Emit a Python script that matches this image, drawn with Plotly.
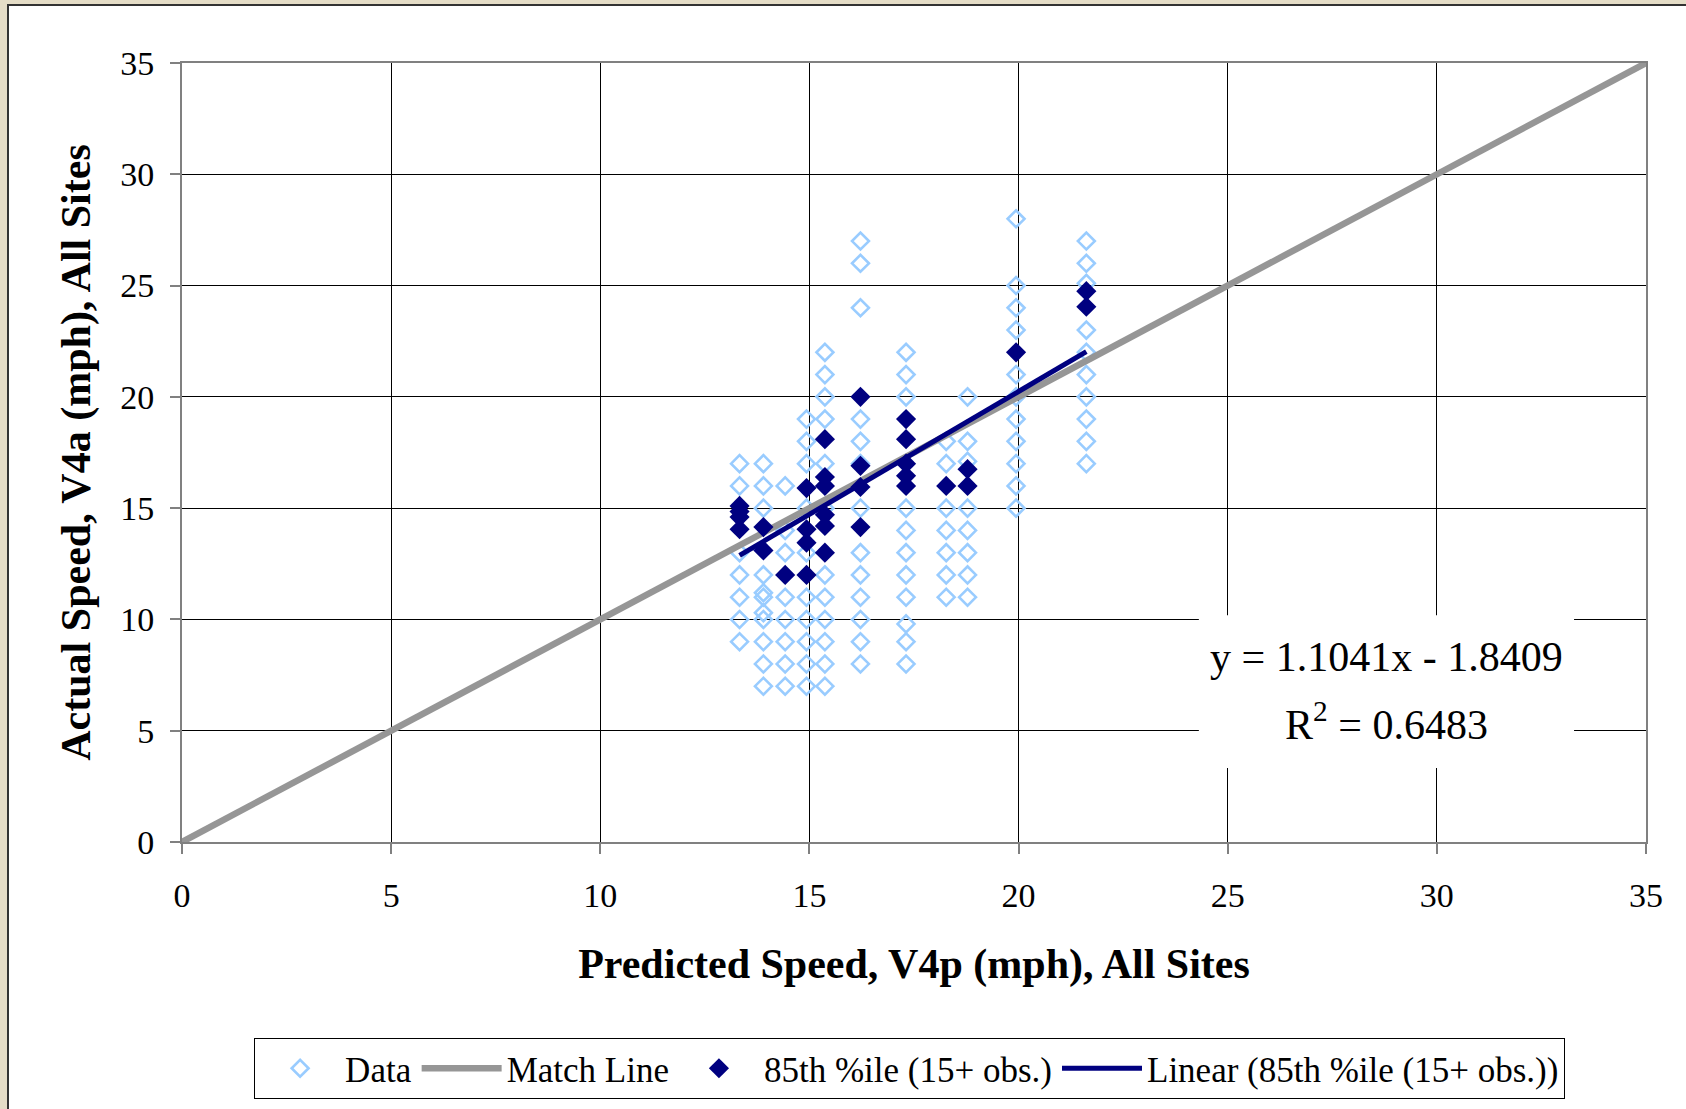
import plotly.graph_objects as go

# ---------------- data ----------------
col_x = [13.33, 13.9, 14.42, 14.93, 15.37, 16.22, 17.31, 18.27, 18.78, 19.94, 21.62]

data_cols = [
    [17, 16, 13, 12, 11, 10, 9],
    [17, 16, 15, 12, 11.2, 11, 10.3, 10, 9, 8, 7],
    [16, 14, 13, 11, 10, 9, 8, 7],
    [19, 18, 17, 15, 13, 11, 10, 9, 8, 7],
    [22, 21, 20, 19, 17, 15, 12, 11, 10, 9, 8, 7],
    [27, 26, 24, 19, 18, 17, 15, 13, 12, 11, 10, 9, 8],
    [22, 21, 20, 15, 14, 13, 12, 11, 9.8, 9, 8],
    [18, 17, 15, 14, 13, 12, 11],
    [20, 18, 17.1, 15, 14, 13, 12, 11],
    [28, 25, 24, 23, 21, 20, 19, 18, 17, 16, 15],
    [27, 26, 25.1, 23, 22, 21, 20, 19, 18, 17],
]

p85_cols = [
    [15.1, 14.85, 14.6, 14.05],
    [14.15, 13.1],
    [12],
    [15.9, 14.05, 13.45, 12],
    [18.1, 16.4, 16.0, 14.7, 14.2, 13.0],
    [20, 16.9, 15.95, 14.15],
    [19, 18.1, 17, 16.45, 16],
    [16],
    [16.75, 16],
    [22],
    [24.75, 24.05],
]

match_x = [0, 35]
match_y = [0, 35]

trend_slope = 1.1041
trend_intercept = -1.8409
trend_r2 = 0.6483

x_ticks = [0, 5, 10, 15, 20, 25, 30, 35]
y_ticks = [0, 5, 10, 15, 20, 25, 30, 35]

# ---------------- build series ----------------
data_x, data_y = [], []
for x, ys in zip(col_x, data_cols):
    data_x += [x] * len(ys)
    data_y += ys

p85_x, p85_y = [], []
for x, ys in zip(col_x, p85_cols):
    p85_x += [x] * len(ys)
    p85_y += ys

trend_x = [min(p85_x), max(p85_x)]
trend_y = [trend_slope * v + trend_intercept for v in trend_x]

SERIF = "Liberation Serif, Times New Roman, serif"
W, H = 1686, 1109
ML, MR, MT, MB = 182, 40, 63, 267
PW, PH = W - ML - MR, H - MT - MB


def px_x(px):
    return (px - ML) / PW


def px_y(py):
    return (H - MB - py) / PH


fig = go.Figure()
fig.add_trace(go.Scatter(
    x=data_x, y=data_y, mode="markers", name="Data",
    marker=dict(symbol="diamond-open", size=13, color="#99CCFF",
                line=dict(width=2.6, color="#99CCFF")),
))
fig.add_trace(go.Scatter(
    x=match_x, y=match_y, mode="lines", name="Match Line",
    line=dict(color="#969696", width=6.5),
))
fig.add_trace(go.Scatter(
    x=p85_x, y=p85_y, mode="markers", name="85th %ile (15+ obs.)",
    marker=dict(symbol="diamond", size=15.5, color="#000080"),
))
fig.add_trace(go.Scatter(
    x=trend_x, y=trend_y, mode="lines", name="Linear (85th %ile (15+ obs.))",
    line=dict(color="#000080", width=5),
))

axis_common = dict(
    range=[0, 35], tickvals=x_ticks, showgrid=True, gridcolor="#000000", gridwidth=1,
    showline=True, linecolor="#808080", linewidth=2, mirror=True,
    ticks="outside", ticklen=10, tickcolor="#808080", tickwidth=2,
    zeroline=False, automargin=False,
    tickfont=dict(family=SERIF, size=34, color="#000000"),
)

fig.update_xaxes(**axis_common, ticklabelstandoff=12,
                 title=dict(text="<b>Predicted Speed, V4p (mph), All Sites</b>",
                            font=dict(family=SERIF, size=42, color="#000000"),
                            standoff=36))
fig.update_yaxes(**{**axis_common, "tickvals": y_ticks}, ticklabelstandoff=9,
                 title=dict(text="<b>Actual Speed, V4a (mph), All Sites</b>",
                            font=dict(family=SERIF, size=42, color="#000000"),
                            standoff=17))

# white label box behind the regression text (covers only gridlines)
fig.add_shape(
    type="rect", xref="x", yref="y", x0=24.31, x1=33.28, y0=3.32, y1=10.19,
    fillcolor="#FFFFFF", line=dict(width=0), layer="above",
)
fig.add_annotation(
    x=28.8, y=8.33, xref="x", yref="y",
    text=f"y = {trend_slope}x - {abs(trend_intercept)}",
    showarrow=False, font=dict(family=SERIF, size=42, color="#000000"),
)
fig.add_annotation(
    x=28.8, y=5.42, xref="x", yref="y",
    text=f"R<sup>2</sup> = {trend_r2}",
    showarrow=False, font=dict(family=SERIF, size=42, color="#000000"),
)

# page frame
fig.add_shape(
    type="rect", xref="paper", yref="paper",
    x0=px_x(8), x1=px_x(1720), y0=px_y(1140), y1=px_y(5),
    fillcolor="#FFFFFF", line=dict(color="#333333", width=2), layer="below",
)

fig.update_layout(
    width=W, height=H,
    margin=dict(l=ML, r=MR, t=MT, b=MB, autoexpand=False),
    paper_bgcolor="#E5DDC7", plot_bgcolor="#FFFFFF",
    font=dict(family=SERIF, color="#000000"),
    showlegend=True,
    legend=dict(
        orientation="h", x=0.497, xanchor="center", y=px_y(1038), yanchor="top",
        font=dict(family=SERIF, size=35, color="#000000"),
        bordercolor="#000000", borderwidth=1, bgcolor="#FFFFFF",
        itemwidth=80, tracegroupgap=0,
    ),
)

fig.write_html("out.html", config={"displayModeBar": False},
               post_script="document.body.style.margin='0px';")
